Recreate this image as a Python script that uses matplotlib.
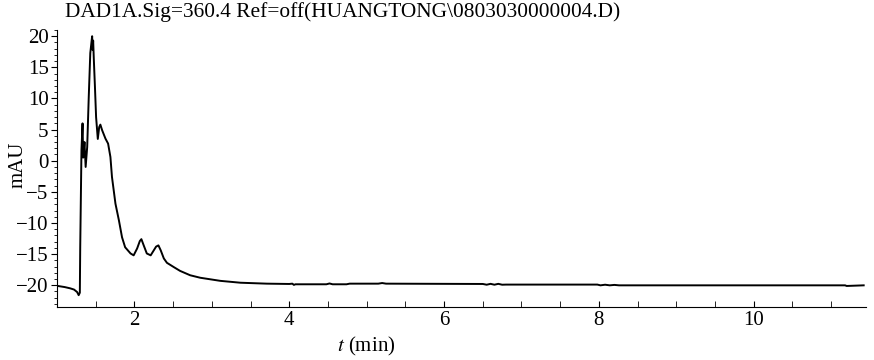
import numpy as np
import matplotlib.pyplot as plt
from matplotlib.ticker import MultipleLocator

# chromatogram: time (min) and signal (mAU)
time = [1.00, 1.10, 1.17, 1.22, 1.26, 1.28, 1.295, 1.30, 1.316, 1.33, 1.338,
        1.346, 1.355, 1.37, 1.39, 1.41, 1.43, 1.445, 1.454, 1.46, 1.467,
        1.475, 1.49, 1.505, 1.527, 1.545, 1.56, 1.583, 1.626, 1.66, 1.69,
        1.71, 1.755, 1.80, 1.84, 1.88, 1.95, 1.99, 2.035, 2.07, 2.09, 2.12,
        2.16, 2.21, 2.25, 2.28, 2.31, 2.34, 2.38, 2.42, 2.51, 2.59, 2.72,
        2.85, 3.11, 3.37, 3.71, 4.00, 4.04, 4.06, 4.08, 4.30, 4.48, 4.52,
        4.56, 4.74, 4.78, 5.15, 5.20, 5.25, 6.50, 6.55, 6.60, 6.65, 6.70,
        6.75, 6.80, 7.50, 7.98, 8.02, 8.08, 8.14, 8.20, 8.26, 8.32, 9.50,
        11.18, 11.20, 11.42]
signal = [-20.1, -20.3, -20.5, -20.7, -21.1, -21.6, -21.2, -13.9, 1.7, 6.0, 0.5,
          1.7, 3.0, -1.0, 2.2, 10.2, 17.3, 19.0, 20.0, 17.8, 19.3,
          16.5, 11.9, 7.0, 3.5, 5.4, 5.8, 4.9, 3.55, 2.75, 0.6,
          -2.6, -6.9, -9.6, -12.3, -13.9, -14.9, -15.2, -14.1, -12.9, -12.6, -13.6,
          -14.9, -15.2, -14.4, -13.8, -13.6, -14.4, -15.7, -16.4, -17.1, -17.7, -18.4,
          -18.8, -19.3, -19.6, -19.75, -19.8, -19.75, -19.95, -19.85, -19.85, -19.85, -19.72,
          -19.85, -19.85, -19.75, -19.75, -19.65, -19.75, -19.8, -19.92, -19.78, -19.92, -19.78,
          -19.92, -19.9, -19.9, -19.9, -20.02, -19.92, -20.02, -19.95, -20.02, -20.02, -20.02,
          -20.02, -20.12, -20.02]

title = r'DAD1A.Sig=360.4 Ref=off(HUANGTONG\0803030000004.D)'

plt.rcParams['font.family'] = ['Liberation Serif', 'DejaVu Serif']
plt.rcParams['mathtext.fontset'] = 'stix'

fig = plt.figure(figsize=(8.74, 3.6), dpi=100)
ax = fig.add_axes([57/874, 53/360, (866-57)/874, (307-30)/360])

ax.plot(time, signal, color='black', lw=1.4)

ax.set_xlim(1.0, 11.45)
ax.set_ylim(-23.5, 21)
ax.spines['top'].set_visible(False)
ax.spines['right'].set_visible(False)

ax.xaxis.set_major_locator(MultipleLocator(2))
ax.xaxis.set_minor_locator(MultipleLocator(0.5))
ax.yaxis.set_major_locator(MultipleLocator(5))
ax.yaxis.set_minor_locator(MultipleLocator(1))
ax.tick_params(axis='x', which='both', direction='in', length=4, labelsize=15, pad=3)
ax.tick_params(axis='y', which='major', direction='out', length=4, labelsize=15, pad=2)
ax.tick_params(axis='y', which='minor', direction='out', length=2)

fig.text(65/874, 1 - 12/360, title, fontsize=15.4, ha='left', va='center')
fig.text(366/874, 1 - 346/360, r'$t$ (min)', fontsize=15, ha='center', va='center')
fig.text(18/874, 1 - 165/360, 'mAU', fontsize=15, rotation=90, ha='center', va='center')

fig.savefig('out.png', dpi=100)
